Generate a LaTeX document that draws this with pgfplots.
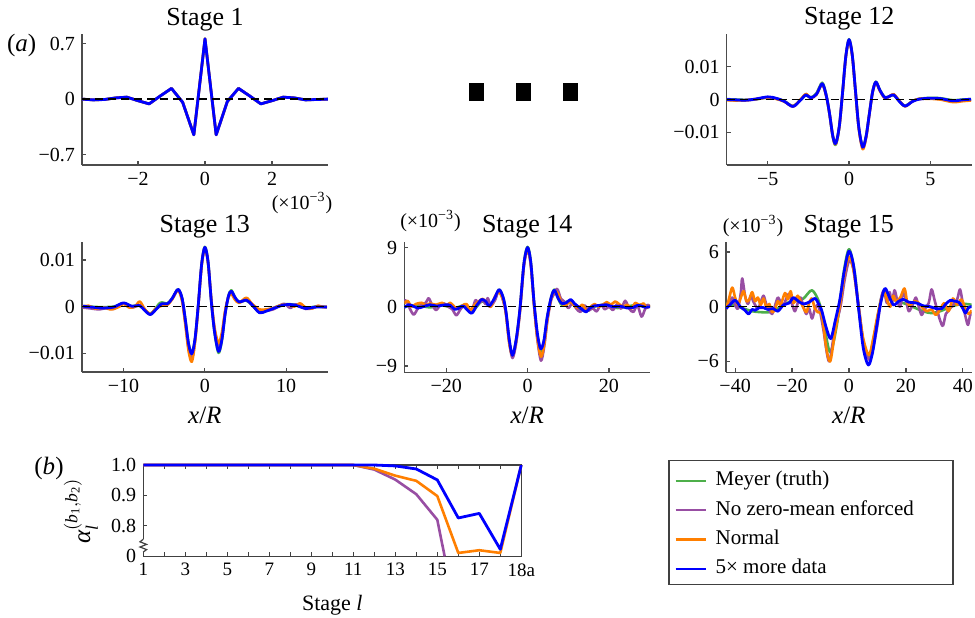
\documentclass[border=0pt]{standalone}
\usepackage{fontspec}
\setmainfont{Liberation Serif}
\usepackage{amsmath}
\usepackage{pgfplots}
\pgfplotsset{compat=1.18}
\usepackage{pgfplotstable}
\definecolor{cgreen}{HTML}{4DAF4A}
\definecolor{cpurple}{HTML}{984EA3}
\definecolor{corange}{HTML}{FF7F00}
\definecolor{cblue}{HTML}{0000FF}

\pgfplotstableread{
x y
-3.667 0.0
-3.333 -0.01
-3.0 -0.005
-2.667 0.015
-2.333 0.025
-2.0 -0.02
-1.667 -0.06
-1.333 0.04
-1.0 0.135
-0.667 -0.04
-0.333 -0.45
0 0.76
0.333 -0.45
0.667 -0.03
1.0 0.135
1.333 0.04
1.667 -0.06
2.0 -0.02
2.333 0.025
2.667 0.015
3.0 -0.01
3.333 -0.005
3.667 0.0
}\stageone

\pgfplotsset{
  panel/.style={
    scale only axis, anchor=south west,
    axis lines*=left,
    axis line style={-, draw=black!70, line width=0.7pt},
    tick align=inside, major tick length=2pt,
    tick style={black!70, line width=0.6pt},
    tick label style={font=\fontsize{10}{12}\selectfont},
    every axis title/.style={at={(axis description cs:0.5,1)}, anchor=base, yshift=4.5pt, font=\fontsize{13}{15}\selectfont},
    xlabel style={at={(axis description cs:0.5,0)}, anchor=base, yshift=-25.5pt, font=\fontsize{12.5}{15}\selectfont},
    every axis plot/.append style={line width=1.3pt, line join=round},
  },
  zline/.style={black, line width=0.7pt, dash pattern=on 4pt off 2.5pt},
}

\begin{document}
\begin{tikzpicture}
\useasboundingbox (0,0) rectangle (487.5pt,-308.5pt);

% ---------- Stage 1
\begin{axis}[panel, at={(41pt,-82.5pt)}, width=123pt, height=65.5pt,
  xmin=-3.67, xmax=3.67, ymin=-0.83, ymax=0.82,
  xtick={-2,0,2}, xticklabels={−2,0,2},
  ytick={-0.7,0,0.7}, yticklabels={−0.7,0,0.7},
  title={Stage 1}]
\addplot[cgreen] table {\stageone};
\addplot[cpurple] table {\stageone};
\addplot[corange] table {\stageone};
\addplot[cblue, line width=1.4pt] table {\stageone};
\addplot[zline] coordinates {(-3.67,0) (3.67,0)};
\end{axis}

% ---------- Stage 12
\begin{axis}[panel, at={(363.35pt,-82.5pt)}, width=122.65pt, height=65.5pt,
  xmin=-7.52, xmax=7.56, ymin=-19.9, ymax=19.9,
  xtick={-5,0,5}, xticklabels={−5,0,5},
  ytick={-10,0,10}, yticklabels={−0.01,0,0.01},
  title={Stage 12}]
\addplot[cgreen, smooth] coordinates {(-7.5,0.1) (-7.0,0.0) (-6.4,-0.1) (-5.8,0.0) (-5.0,0.6) (-4.5,0.3) (-4.0,-0.4) (-3.45,-2.0) (-3.0,-0.2) (-2.65,1.3) (-2.35,0.6) (-2.0,1.9) (-1.65,5.1) (-1.4,1.4) (-1.2,-4.4) (-1.0,-11.3) (-0.82,-13.8) (-0.6,-8.4) (-0.4,2.0) (-0.2,13.0) (0,18.3) (0.2,13.5) (0.4,2.4) (0.6,-8.5) (0.84,-14.3) (1.05,-11.0) (1.25,-4.2) (1.45,2.4) (1.65,5.4) (1.9,2.9) (2.2,0.7) (2.5,1.0) (2.75,1.3) (3.1,-0.5) (3.45,-1.9) (3.9,-0.5) (4.3,0.2) (5.0,0.5) (5.6,0.4) (6.4,-0.2) (7.0,0.0) (7.5,0.1)};
\addplot[cpurple, smooth] coordinates {(-7.5,-0.1) (-7.0,-0.2) (-6.4,-0.3) (-5.8,0.0) (-5.0,0.7) (-4.5,0.3) (-4.0,-0.5) (-3.45,-2.2) (-3.0,-0.2) (-2.65,1.5) (-2.35,0.5) (-2.0,1.6) (-1.65,4.7) (-1.4,1.1) (-1.2,-4.2) (-1.0,-11.1) (-0.82,-13.5) (-0.6,-8.3) (-0.4,1.9) (-0.2,12.9) (0,18.0) (0.2,13.3) (0.4,2.3) (0.6,-8.6) (0.84,-14.8) (1.05,-11.4) (1.25,-4.4) (1.45,2.3) (1.65,5.2) (1.9,2.7) (2.2,0.5) (2.5,1.0) (2.75,1.5) (3.1,-0.5) (3.45,-2.0) (3.9,-0.6) (4.3,0.1) (5.0,0.3) (5.6,0.1) (6.4,-0.6) (7.0,-0.3) (7.5,-0.1)};
\addplot[corange, smooth] coordinates {(-7.5,-0.2) (-7.0,-0.3) (-6.4,-0.2) (-5.8,0.1) (-5.0,0.6) (-4.5,0.2) (-4.0,-0.6) (-3.45,-2.0) (-3.0,-0.1) (-2.65,1.7) (-2.35,0.4) (-2.0,1.5) (-1.65,4.6) (-1.4,1.0) (-1.2,-4.3) (-1.0,-11.0) (-0.82,-13.6) (-0.6,-8.4) (-0.4,1.8) (-0.2,12.8) (0,17.9) (0.2,13.2) (0.4,2.2) (0.6,-8.8) (0.84,-15.1) (1.05,-11.6) (1.25,-4.5) (1.45,2.2) (1.65,5.1) (1.9,2.6) (2.2,0.4) (2.5,1.0) (2.75,1.6) (3.1,-0.4) (3.45,-2.1) (3.9,-0.5) (4.3,0.2) (5.0,0.2) (5.6,0.0) (6.4,-0.8) (7.0,-0.5) (7.5,-0.3)};
\addplot[cblue, smooth, line width=1.4pt] coordinates {(-7.5,0.0) (-7.0,-0.1) (-6.4,-0.2) (-5.8,0.1) (-5.0,0.8) (-4.5,0.4) (-4.0,-0.5) (-3.45,-2.1) (-3.0,-0.3) (-2.65,1.4) (-2.35,0.5) (-2.0,1.6) (-1.65,4.8) (-1.4,1.2) (-1.2,-4.2) (-1.0,-11.0) (-0.82,-13.4) (-0.6,-8.2) (-0.4,2.0) (-0.2,13.0) (0,18.2) (0.2,13.5) (0.4,2.5) (0.6,-8.4) (0.84,-14.5) (1.05,-11.2) (1.25,-4.4) (1.45,2.3) (1.65,5.3) (1.9,2.8) (2.2,0.6) (2.5,1.0) (2.75,1.4) (3.1,-0.6) (3.45,-2.0) (3.9,-0.6) (4.3,0.1) (5.0,0.4) (5.6,0.3) (6.4,-0.4) (7.0,-0.1) (7.5,0.1)};
\addplot[zline] coordinates {(-7.52,0) (7.56,0)};
\end{axis}

% ---------- Stage 13
\begin{axis}[panel, at={(41pt,-186pt)}, width=122.85pt, height=65.15pt,
  xmin=-15.1, xmax=15.1, ymin=-14.0, ymax=13.9,
  xtick={-10,0,10}, xticklabels={−10,0,10},
  ytick={-10,0,10}, yticklabels={−0.01,0,0.01},
  title={Stage 13}, xlabel={\textit{x}/\textit{R}}]
\addplot[cgreen, smooth] coordinates {(-15,0.1) (-13,-0.1) (-11.2,0.0) (-10,0.7) (-9,0.1) (-8,0.2) (-6.7,-1.5) (-5.5,0.8) (-4.6,0.7) (-4.0,1.8) (-3.3,3.7) (-2.8,1.8) (-2.4,-2.7) (-2.0,-7.9) (-1.6,-10.0) (-1.2,-6.8) (-0.8,0.5) (-0.4,9.0) (0,12.8) (0.4,9.6) (0.8,1.0) (1.2,-5.6) (1.68,-9.9) (2.1,-7.2) (2.5,-1.5) (2.9,2.3) (3.25,3.5) (3.7,2.0) (4.2,1.0) (5.1,1.3) (5.8,0.3) (6.7,-1.2) (7.5,-0.9) (8.4,-0.3) (9.8,0.5) (11,0.4) (12.4,-0.3) (13.6,0.0) (15,-0.1)};
\addplot[cpurple, smooth] coordinates {(-15,-0.2) (-14,-0.4) (-13,-0.6) (-12,-0.3) (-11.2,-0.5) (-10,0.7) (-9,-0.2) (-8,0.3) (-7.4,-0.6) (-6.7,-1.6) (-6.0,-0.5) (-5.3,0.4) (-4.6,0.5) (-4.0,1.7) (-3.3,3.6) (-2.8,1.6) (-2.4,-3.3) (-2.0,-9.0) (-1.6,-11.2) (-1.2,-7.2) (-0.8,0.4) (-0.4,8.8) (0,12.6) (0.4,9.4) (0.8,1.2) (1.2,-5.0) (1.68,-8.8) (2.1,-6.5) (2.5,-1.2) (2.9,2.2) (3.25,3.0) (3.7,1.8) (4.2,0.9) (5.1,1.4) (5.8,0.3) (6.7,-1.1) (7.5,-0.9) (8.4,-0.6) (9.7,0.6) (10.5,-0.3) (11.2,0.5) (12.4,-0.5) (13.3,-0.3) (14,0.1) (15,-0.2)};
\addplot[corange, smooth] coordinates {(-15,0.0) (-14.3,0.2) (-13.5,-0.4) (-12.5,-0.2) (-11.5,-0.6) (-10.5,0.0) (-10,0.6) (-9.3,-0.2) (-8.6,0.0) (-8.0,1.1) (-7.4,-0.5) (-6.7,-1.6) (-6.0,-0.4) (-5.3,0.2) (-4.6,0.4) (-4.0,1.6) (-3.3,3.5) (-2.8,1.2) (-2.4,-3.8) (-2.0,-9.5) (-1.6,-11.8) (-1.2,-7.5) (-0.8,0.2) (-0.4,8.7) (0,12.5) (0.4,9.2) (0.8,1.4) (1.2,-4.6) (1.68,-7.8) (2.1,-5.5) (2.5,-0.8) (2.9,2.0) (3.25,2.7) (3.7,1.5) (4.2,0.8) (5.1,1.9) (5.8,0.6) (6.7,-0.6) (7.5,-0.6) (8.4,-0.3) (9.3,0.3) (10.2,0.5) (11,0.0) (11.7,0.7) (12.4,-0.2) (13.2,-0.4) (13.9,0.2) (14.5,-0.1) (15,0.0)};
\addplot[cblue, smooth, line width=1.4pt] coordinates {(-15,0.1) (-14,-0.1) (-12.5,-0.3) (-11.2,-0.1) (-10,0.8) (-9,0.1) (-8,0.2) (-7.4,-0.8) (-6.7,-1.7) (-6.0,-0.6) (-5.3,0.6) (-4.6,0.6) (-4.0,1.8) (-3.3,3.7) (-2.8,1.8) (-2.4,-2.8) (-2.0,-8.0) (-1.6,-10.1) (-1.2,-6.8) (-0.8,0.5) (-0.4,9.0) (0,12.7) (0.4,9.5) (0.8,1.0) (1.2,-5.5) (1.68,-9.6) (2.1,-7.0) (2.5,-1.5) (2.9,2.2) (3.25,3.3) (3.7,2.0) (4.2,1.0) (5.1,1.4) (5.8,0.4) (6.7,-1.3) (7.5,-1.0) (8.4,-0.4) (9.8,0.4) (10.8,0.4) (11.5,0.1) (12.4,-0.4) (13.6,-0.1) (15,-0.1)};
\addplot[zline] coordinates {(-15.1,0) (15.1,0)};
\end{axis}

% ---------- Stage 14
\begin{axis}[panel, at={(202.15pt,-186.15pt)}, width=122.85pt, height=65.3pt,
  xmin=-30.3, xmax=30.1, ymin=-9.97, ymax=9.88,
  xtick={-20,0,20}, xticklabels={−20,0,20},
  ytick={-9,0,9}, yticklabels={−9,0,9},
  title={Stage 14}, xlabel={\textit{x}/\textit{R}}]
\addplot[cgreen, smooth] coordinates {(-30.3,0.0) (-27,0.2) (-24,-0.1) (-21,0.2) (-18,-0.2) (-15.5,0.2) (-13.5,-0.6) (-11.3,0.8) (-9.5,0.3) (-8,1.2) (-7,2.6) (-6,1.4) (-5.3,-0.8) (-4.5,-5.2) (-3.7,-7.4) (-2.8,-5.0) (-1.9,-0.5) (-0.9,6.6) (0,9.1) (0.8,6.8) (1.6,0.6) (2.4,-4.3) (3.2,-6.8) (4.0,-5.4) (4.8,-1.7) (5.8,1.4) (6.6,2.6) (7.5,1.3) (8.4,0.3) (10,0.8) (12.5,-0.2) (14.4,-0.7) (16.5,0.0) (19,0.3) (22,-0.2) (25,0.1) (28,0.3) (30.1,0.0)};
\addplot[cpurple, smooth] coordinates {(-30.3,1.0) (-29.7,0.8) (-29,-0.2) (-28,-1.2) (-27,-0.3) (-26,0.4) (-25,0.6) (-24.3,1.3) (-23.5,0.3) (-22.5,-0.5) (-21.5,0.2) (-20.5,0.5) (-19.5,0.0) (-18.5,-0.4) (-17.5,-1.3) (-16.5,-0.4) (-15.5,0.2) (-14.5,-0.6) (-13.5,-0.2) (-12.8,1.0) (-12,0.5) (-11,1.0) (-10.3,0.4) (-9.8,1.3) (-9,0.2) (-8,1.0) (-7,2.5) (-6,0.9) (-5.3,-1.0) (-4.5,-5.3) (-3.7,-7.8) (-2.8,-5.5) (-1.9,-0.9) (-0.9,6.2) (0,8.6) (0.8,6.3) (1.6,0.3) (2.4,-4.9) (3.3,-8.2) (4.1,-6.0) (4.9,-2.0) (5.8,1.0) (6.6,2.0) (7.3,2.7) (8.2,1.2) (9,0.8) (10,-0.2) (11,0.5) (12,-0.3) (13,-0.8) (14,0.2) (15,-0.6) (16,-0.2) (17,-0.7) (18,0.3) (19,-0.4) (20,0.0) (21,-0.5) (22,0.4) (23,-0.3) (24,0.9) (25,-0.3) (26,-0.8) (27,0.2) (28,-1.5) (28.8,-0.5) (29.5,0.3) (30.1,0.0)};
\addplot[corange, smooth] coordinates {(-30.3,0.5) (-29.5,0.9) (-28.5,0.0) (-27.5,0.4) (-26,0.6) (-25,0.2) (-24,0.5) (-22.5,0.3) (-21,0.6) (-20,0.2) (-19,0.6) (-18,0.0) (-17,-0.3) (-16,0.2) (-15,0.4) (-14,-0.5) (-13,0.3) (-12,0.8) (-11,1.2) (-10,0.5) (-9,0.0) (-8,1.6) (-7,2.2) (-6,1.0) (-5.3,-1.2) (-4.5,-5.6) (-3.7,-7.4) (-2.8,-5.2) (-1.9,-0.8) (-0.9,6.3) (0,8.7) (0.8,6.4) (1.6,0.2) (2.4,-4.8) (3.3,-7.6) (4.1,-5.7) (4.9,-1.8) (5.8,1.2) (6.6,2.3) (7.5,2.0) (8.4,0.5) (9.5,0.3) (10.5,0.8) (11.5,0.2) (12.5,-0.2) (13.5,0.3) (14.5,-0.6) (15.5,0.0) (16.5,0.4) (17.5,0.0) (18.5,0.3) (19.5,0.7) (20.5,0.3) (21.5,0.8) (22.5,0.4) (23.5,0.0) (24.5,0.3) (25.5,-0.3) (26.5,0.6) (27.5,0.2) (28.5,0.5) (29.3,-0.2) (30.1,0.2)};
\addplot[cblue, smooth, line width=1.4pt] coordinates {(-30.3,-0.1) (-29.2,0.3) (-28.5,0.2) (-27,-0.2) (-25.7,0.0) (-24,0.3) (-22.4,0.1) (-20.1,0.3) (-19,0.2) (-17.9,-0.4) (-16.8,-0.2) (-15.8,0.1) (-13.8,-1.0) (-12.5,0.2) (-11.3,1.1) (-10.3,0.8) (-9.4,0.1) (-8.2,1.2) (-7.0,2.6) (-6.0,1.4) (-5.3,-0.8) (-4.5,-5.0) (-3.7,-7.4) (-2.8,-5.0) (-1.9,-0.5) (-0.9,6.5) (0,9.0) (0.8,6.7) (1.6,0.6) (2.4,-4.0) (3.2,-6.4) (4.0,-5.2) (4.8,-1.7) (5.8,1.4) (6.6,2.5) (7.5,1.3) (8.4,0.5) (9.5,0.6) (10.6,1.1) (11.5,0.5) (12.5,0.0) (13.4,-0.4) (14.4,-0.8) (15.3,-0.2) (16.2,0.1) (18,0.2) (19.4,0.3) (21,0.0) (22.7,0.1) (24.5,-0.2) (26,-0.1) (27,0.2) (28,0.1) (29,-0.1) (30.1,0.0)};
\addplot[zline] coordinates {(-30.3,0) (30.1,0)};
\end{axis}

% ---------- Stage 15
\begin{axis}[panel, at={(363pt,-186.15pt)}, width=122.85pt, height=65.3pt,
  xmin=-43.2, xmax=43.1, ymin=-7.2, ymax=7.13,
  xtick={-40,-20,0,20,40}, xticklabels={−40,−20,0,20,40},
  ytick={-6,0,6}, yticklabels={−6,0,6},
  title={Stage 15}, xlabel={\textit{x}/\textit{R}}]
\addplot[cgreen, smooth] coordinates {(-43.2,0.3) (-40,0.1) (-37,-0.2) (-34,-0.5) (-31,-0.6) (-28,-0.6) (-25,-0.2) (-22,0.4) (-19,0.6) (-16,0.9) (-13,1.8) (-10.5,0.5) (-9,-1.5) (-6.6,-5.0) (-4,-1.5) (-2,3.5) (0,6.3) (2,3.8) (3.5,-0.5) (5,-3.8) (7,-5.5) (9,-3.0) (11,0.5) (12.5,1.8) (14.5,1.0) (17,0.6) (20,0.3) (23,-0.1) (26,-0.5) (29,-0.7) (32,-0.5) (35,-0.1) (38,0.2) (41,0.3) (43.1,0.2)};
\addplot[cpurple, smooth] coordinates {(-43.2,0.0) (-42,0.4) (-41,1.0) (-40,0.2) (-39,-0.2) (-38,1.5) (-37.5,3.1) (-36.5,1.2) (-35.5,0.3) (-34.5,1.2) (-33.5,0.5) (-32,-0.2) (-31,0.5) (-30,1.2) (-29,0.2) (-28,-0.4) (-27,-0.8) (-26,0.1) (-25,1.0) (-24,0.5) (-23,0.2) (-22,0.9) (-21,1.4) (-20,0.3) (-19,-0.5) (-18,0.4) (-17,1.0) (-16,0.0) (-15,-0.8) (-14,-0.2) (-13,-1.3) (-12,-0.3) (-11,0.2) (-10,-0.8) (-9,-2.5) (-7,-6.0) (-5,-2.5) (-3,0.0) (-1.5,3.0) (0,5.0) (1.5,4.2) (3.5,-0.2) (5,-3.8) (7,-5.8) (8.5,-4.5) (10,-2.0) (11.2,0.8) (12.3,1.8) (13.3,0.4) (14.3,1.6) (15,0.3) (16,1.8) (17,0.6) (18,0.0) (19,1.5) (20,0.8) (21,-0.5) (22.5,0.3) (23.5,1.0) (24.5,0.0) (25.5,-0.9) (26.5,-0.3) (28,0.4) (29,1.9) (30,0.8) (31,-0.4) (32,-1.5) (33,-2.1) (34,-0.8) (35,-0.4) (36.5,0.2) (38,0.8) (39,1.9) (40,0.3) (41,-1.2) (41.8,-2.0) (42.5,-1.0) (43.1,-0.6)};
\addplot[corange, smooth] coordinates {(-43.2,-0.3) (-42.2,0.8) (-41,2.1) (-40,1.0) (-39,0.2) (-38,1.0) (-37,1.7) (-36,0.6) (-35,0.8) (-34,1.6) (-33,0.6) (-32,1.0) (-31,0.2) (-30,0.9) (-29,-0.1) (-28,0.3) (-27,-0.6) (-26,-0.3) (-25,0.6) (-24,0.2) (-22.5,1.5) (-21.5,0.8) (-20.5,1.7) (-19.5,0.4) (-18,1.2) (-16.5,0.2) (-15,-0.6) (-14,0.4) (-13,0.9) (-12,-0.2) (-11,-0.6) (-9.5,-1.0) (-8,-4.5) (-6.6,-6.0) (-5,-3.0) (-3,0.5) (-1.6,3.5) (0,5.5) (1.6,4.0) (3.5,-0.3) (5,-3.5) (7,-5.3) (8.5,-3.5) (10,-1.0) (11.5,1.0) (12.5,1.5) (13.5,0.6) (14.5,0.0) (15.5,1.2) (16.5,0.6) (18,1.0) (19.5,2.0) (20.5,0.4) (21.5,0.2) (23,0.6) (24.5,0.4) (26,-0.2) (27.5,-0.5) (29,-0.3) (30.5,-0.9) (32,-0.3) (33.5,0.4) (35,-0.5) (36.5,0.9) (38,0.2) (39.5,0.8) (41,-0.3) (42,-0.8) (43.1,-0.4)};
\addplot[cblue, smooth, line width=1.4pt] coordinates {(-43.2,-0.2) (-41.8,0.2) (-40,0.7) (-38.2,0.0) (-36.5,-0.4) (-35.3,-0.8) (-34,-0.3) (-33,-0.4) (-31.5,-0.1) (-30.1,-0.1) (-28.5,-0.3) (-26.6,-0.2) (-25,-0.5) (-23,0.2) (-21,0.4) (-19.5,1.0) (-17.8,0.6) (-16,0.3) (-14,0.5) (-11.9,0.9) (-10.5,0.2) (-9.6,-0.4) (-8,-2.3) (-6.4,-3.5) (-4.8,-1.5) (-3.2,0.8) (-1.6,4.0) (0,6.1) (1.6,4.5) (3.3,0.0) (5,-4.5) (6.8,-6.4) (8.3,-5.0) (9.7,-2.2) (11.2,0.5) (12.6,2.0) (14,1.2) (15.6,0.2) (17.5,0.6) (19.1,0.8) (21,0.5) (23.8,0.4) (26,0.1) (28.5,0.0) (30.5,-0.2) (32.6,-0.2) (34,0.3) (35.6,0.7) (37,0.6) (38.5,0.5) (40,-0.2) (40.9,-0.7) (42,-0.1) (43.1,0.0)};
\addplot[zline] coordinates {(-43.2,0) (43.1,0)};
\end{axis}

% ---------- panel (b)
\begin{axis}[scale only axis, anchor=south west, at={(71.65pt,-278.15pt)},
  width=189pt, height=45.65pt,
  xmin=1, xmax=19, ymin=0.7, ymax=1.0, clip=false,
  axis line style={draw=black!75, line width=0.7pt},
  tick align=inside, major tick length=2pt, minor tick length=2pt,
  tick style={black!75, line width=0.6pt},
  xtick={1,3,5,7,9,11,13,15,17,19},
  xticklabels={1,3,5,7,9,11,13,15,17,18a},
  minor xtick={2,4,6,8,10,12,14,16,18},
  xtick pos=both, ytick pos=left,
  ytick={0.7,0.8,0.9,1.0}, yticklabels={0,0.8,0.9,1.0},
  xticklabel style={font=\fontsize{9.5}{11}\selectfont},
  yticklabel style={font=\fontsize{10}{12}\selectfont},
  xlabel={Stage \textit{l}},
  xlabel style={at={(axis description cs:0.5,0)}, anchor=base, yshift=-27pt, font=\fontsize{11}{13}\selectfont},
  ylabel={$\textit{α}_{\textit{l}}^{(\textit{b}_{\text{1}},\textit{b}_{\text{2}})}$},
  ylabel style={at={(axis description cs:-0.165,0.5)}, anchor=center, font=\fontsize{12.5}{15}\selectfont},
  every axis plot/.append style={line width=1.3pt, line join=round},
  legend image code/.code={\draw[#1] (0pt,0pt) -- (15pt,0pt);},
  legend image post style={line width=1.1pt},
  legend cell align=left,
  legend style={draw=none, fill=none, at={(axis description cs:1.404,0.99)}, anchor=north west,
    inner sep=0pt, row sep=0pt, column sep=2.3pt,
    font=\fontsize{10.5}{12}\selectfont,
    nodes={inner sep=2.2pt, text height=7.6pt, text depth=2.65pt}},
  ]
\addlegendimage{cgreen}
\addlegendentry{Meyer (truth)}
\addplot[cpurple] coordinates {(1,1) (2,1) (3,1) (4,1) (5,1) (6,1) (7,1) (8,1) (9,1) (10,1) (11,1) (12,0.985) (13,0.952) (14,0.904) (15,0.82) (15.35,0.70)};
\addlegendentry{No zero-mean enforced}
\addplot[corange] coordinates {(1,1) (2,1) (3,1) (4,1) (5,1) (6,1) (7,1) (8,1) (9,1) (10,1) (11,1) (12,0.988) (13,0.965) (14,0.948) (15,0.898) (16,0.711) (17,0.72) (18,0.711) (19,1)};
\addlegendentry{Normal}
\addplot[cblue, line width=1.4pt] coordinates {(1,1) (2,1) (3,1) (4,1) (5,1) (6,1) (7,1) (8,1) (9,1) (10,1) (11,1) (12,1) (13,0.997) (14,0.987) (15,0.951) (16,0.826) (17,0.841) (18,0.723) (19,1)};
\addlegendentry{5× more data}
\end{axis}

% ---------- decorations
\fill[white] (69.4pt,-269.6pt) rectangle (73.9pt,-276pt);
\draw[black!75, line width=0.6pt] (71.65pt,-269.6pt) -- (70pt,-270.9pt) -- (73.3pt,-272.2pt) -- (70pt,-273.5pt) -- (73.3pt,-274.8pt) -- (71.65pt,-276pt);

\draw[black!75, line width=0.6pt] (334.5pt,-230.35pt) rectangle (476.5pt,-292.35pt);

\fill[black] (234.65pt,-41.65pt) rectangle (241.85pt,-50.35pt);
\fill[black] (258pt,-41.65pt) rectangle (265.35pt,-50.35pt);
\fill[black] (281.5pt,-41.65pt) rectangle (289pt,-50.35pt);

\node[font=\fontsize{12.5}{15}\selectfont] at (10.85pt,-22.5pt) {(\textit{a})};
\node[font=\fontsize{12.5}{15}\selectfont] at (24.5pt,-234pt) {(\textit{b})};

\node[font=\fontsize{10}{12}\selectfont] at (151pt,-101.5pt) {(×10\textsuperscript{−3})};
\node[font=\fontsize{10}{12}\selectfont] at (215.25pt,-110.5pt) {(×10\textsuperscript{−3})};
\node[font=\fontsize{10}{12}\selectfont] at (376.5pt,-113pt) {(×10\textsuperscript{−3})};
\end{tikzpicture}
\end{document}
